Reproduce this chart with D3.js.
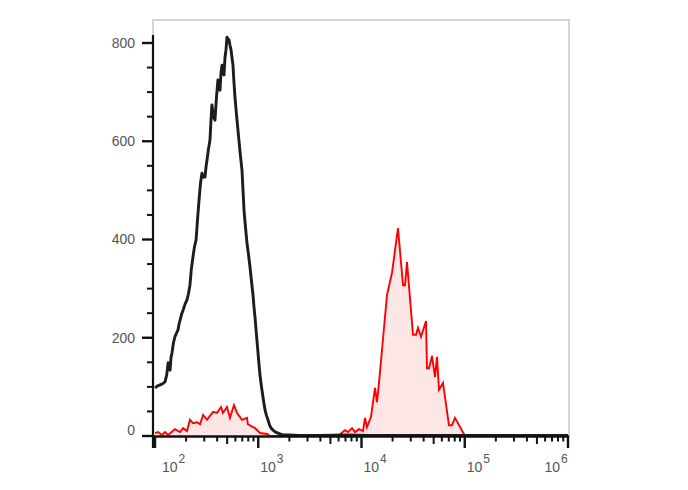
<!DOCTYPE html>
<html>
<head>
<meta charset="utf-8">
<script src="https://cdn.jsdelivr.net/npm/d3@7"></script>
<style>
  html, body { margin: 0; padding: 0; background: #fff; }
  svg { display: block; }
</style>
</head>
<body>
<svg id="chart" width="688" height="490"></svg>
<script>
// ---------- data ----------
const blackX = [100,106,112,118,125,130,134,137,140,143,146,151,156,162,167,171,175,181,187,195,204,211,218,225,233,241,250,258,267,276,285,295,305,312,319,330,341,348,356,368,381,394,407,416,426,436,446,456,466,476,487,498,510,521,533,545,557,569,582,595,615,636,665,696,712,728,752,778,804,832,860,890,910,930,962,995,1018,1040,1075,1112,1140,1163,1200,1243,1270,1300,1345,1390,1470,1553,1640,1737,2000,2500,4000,7000,12000,20000,40000,80000,150000,300000,600000,1000000];
const blackY = [98,102,104,106,110,125,149,140,134,160,169,190,202,210,216,228,236,248,256,268,277,290,307,340,364,385,399,440,480,515,535,527,527,548,562,585,603,640,674,650,643,690,725,710,704,740,755,745,735,770,786,812,808,806,795,786,770,755,720,690,655,623,580,541,500,460,425,393,370,344,315,287,262,242,205,169,145,124,100,79,64,53,42,33,26,20,15,12,8,6,4,2,2,1,1,2,1,1,1,1,1,1,1,1];

const redX = [100,107,117,125,134,145,156,175,187,204,218,233,255,273,292,319,365,398,436,455,498,532,582,622,696,778,793,930,1040,1221,1300,5920,6920,7400,8090,8650,9460,10350,10810,11300,12360,13520,14130,14770,17660,19740,22570,25240,26390,27590,31540,33730,35260,37700,42150,43080,45050,48170,51510,53850,56310,61550,70340,75190,80460,100500];
const redY = [6,8,2,8,2,8,14,8,16,10,33,26,28,24,43,33,49,47,59,47,59,37,63,47,33,37,24,16,6,4,0,0,12,8,16,8,14,10,37,18,39,98,69,108,287,332,423,307,307,354,206,206,220,202,234,138,138,163,120,161,94,108,22,22,37,0];

const yMajorTicks = [0, 200, 400, 600, 800];
const yMinorStep = 50;
const xDecades = [2, 3, 4, 5, 6];          // exponents of the labelled decades
const xMinorMultipliers = [2, 3, 4, 5, 6, 7, 8, 9];

(function () {
// ---------- layout ----------
const svg = d3.select("#chart");
const pLeft = 153, pRight = 569, pTop = 20, pBottom = 436;

const x = d3.scaleLog().domain([1e2, 1e6]).range([155, 568]);
const y = d3.scaleLinear().domain([0, 800]).range([pBottom, 43]);

// frame (light gray box)
svg.append("rect")
  .attr("x", pLeft).attr("y", pTop)
  .attr("width", pRight - pLeft).attr("height", pBottom - pTop)
  .attr("fill", "none").attr("stroke", "#c6c6c6").attr("stroke-width", 1.5);

svg.append("clipPath").attr("id", "plotclip")
  .append("rect").attr("x", pLeft).attr("y", pTop).attr("width", pRight - pLeft).attr("height", pBottom - pTop + 2);

const g = svg.append("g").attr("clip-path", "url(#plotclip)");

const red = redX.map((v, i) => [v, redY[i]]);
const black = blackX.map((v, i) => [v, blackY[i]]);

g.append("path")
  .datum(red)
  .attr("d", d3.area().x(d => x(d[0])).y0(y(0)).y1(d => y(d[1])))
  .attr("fill", "#fde6e6");

g.append("path")
  .datum(red)
  .attr("d", d3.line().x(d => x(d[0])).y(d => y(d[1])))
  .attr("fill", "none").attr("stroke", "#ff0000").attr("stroke-width", 1.9)
  .attr("stroke-linejoin", "miter");

g.append("path")
  .datum(black)
  .attr("d", d3.line().x(d => x(d[0])).y(d => y(d[1])))
  .attr("fill", "none").attr("stroke", "#1c1c1c").attr("stroke-width", 2.9)
  .attr("stroke-linejoin", "round");

// ---------- axes ----------
const axisColor = "#111";
const labelColor = "#555";
const font = "Arial, 'Liberation Sans', sans-serif";

svg.append("line").attr("x1", pLeft).attr("x2", pLeft).attr("y1", 35).attr("y2", 448)
  .attr("stroke", axisColor).attr("stroke-width", 2.2);
svg.append("line").attr("x1", pLeft).attr("x2", 569).attr("y1", pBottom + 0.5).attr("y2", pBottom + 0.5)
  .attr("stroke", axisColor).attr("stroke-width", 2.4);

const yMinor = d3.range(yMinorStep, 800, yMinorStep).filter(v => !yMajorTicks.includes(v));
svg.selectAll(".ymin").data(yMinor).enter().append("line")
  .attr("x1", pLeft - 6).attr("x2", pLeft).attr("y1", d => y(d)).attr("y2", d => y(d))
  .attr("stroke", axisColor).attr("stroke-width", 2);
svg.selectAll(".ymaj").data(yMajorTicks).enter().append("line")
  .attr("x1", pLeft - 11).attr("x2", pLeft).attr("y1", d => y(d)).attr("y2", d => y(d))
  .attr("stroke", axisColor).attr("stroke-width", 2.4);
svg.selectAll(".ylab").data(yMajorTicks).enter().append("text")
  .attr("x", pLeft - 18)
  .attr("y", d => Math.min(y(d), pBottom - 6))
  .attr("dy", "0.35em")
  .attr("text-anchor", "end")
  .attr("font-family", font).attr("font-size", 14).attr("fill", labelColor)
  .text(d => d);

const xMinor = [];
xDecades.slice(0, -1).forEach(e => xMinorMultipliers.forEach(m => xMinor.push(m * Math.pow(10, e))));
svg.selectAll(".xmin").data(xMinor).enter().append("line")
  .attr("x1", d => x(d)).attr("x2", d => x(d))
  .attr("y1", pBottom).attr("y2", d => pBottom + (String(d)[0] === "5" ? 8 : 5.5))
  .attr("stroke", axisColor).attr("stroke-width", 2);
const xMajor = xDecades.map(e => Math.pow(10, e));
svg.selectAll(".xmaj").data(xMajor).enter().append("line")
  .attr("x1", d => x(d)).attr("x2", d => x(d))
  .attr("y1", pBottom).attr("y2", pBottom + 12)
  .attr("stroke", axisColor).attr("stroke-width", 2.4);

const labels = svg.selectAll(".xlab").data(xDecades).enter().append("text")
  .attr("y", 472)
  .attr("font-family", font).attr("font-size", 14).attr("fill", labelColor);
labels.append("tspan").text("10");
labels.append("tspan").attr("dy", -9).attr("dx", 1).attr("font-size", 12).text(d => d);
labels.each(function (d) {
  const w = this.getBBox().width;
  const tx = x(Math.pow(10, d));
  let lx = Math.max(tx + 2, pLeft + 9);
  if (lx + w > pRight) lx = tx - w;
  d3.select(this).attr("x", lx);
});
})();
</script>
</body>
</html>
